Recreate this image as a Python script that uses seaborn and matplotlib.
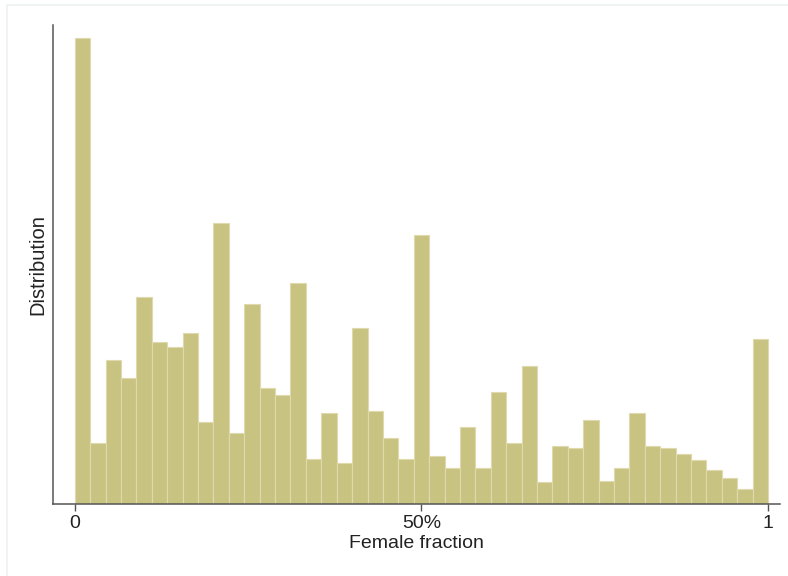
import numpy as np
import pandas as pd
import seaborn as sns
import matplotlib.pyplot as plt
from matplotlib.patches import Rectangle

# share of observations (%) in each of 45 equal bins on [0, 1]
bin_share = [
    9.86, 1.30, 3.05, 2.66, 4.37, 3.42, 3.33, 3.61, 1.73, 5.94,
    1.50, 4.23, 2.46, 2.31, 4.67, 0.95, 1.93, 0.87, 3.73, 1.97,
    1.39, 0.95, 5.70, 1.02, 0.76, 1.62, 0.77, 2.38, 1.30, 2.92,
    0.47, 1.23, 1.18, 1.78, 0.49, 0.77, 1.93, 1.23, 1.18, 1.05,
    0.93, 0.72, 0.54, 0.31, 3.49,
]
n_bins = len(bin_share)
bin_mid = (np.arange(n_bins) + 0.5) / n_bins
x_ticks = [0, 0.5, 1]
x_ticklabels = ["0", "50%", "1"]

df = pd.DataFrame({"female_fraction": bin_mid, "share": bin_share})

sns.set_style("white")
plt.rcParams["font.family"] = ["Liberation Sans", "DejaVu Sans"]

fig = plt.figure(figsize=(7.88, 5.76), dpi=100)
ax = fig.add_axes([0.067, 0.125, 0.923, 0.832])

sns.histplot(
    data=df, x="female_fraction", weights="share",
    bins=n_bins, binrange=(0, 1), stat="count",
    color="#c9c382", alpha=1, edgecolor="#dedaae", linewidth=0.8,
    ax=ax,
)

ax.set_xlim(-0.0317, 1.0173)
ax.set_ylim(0, 10.14)
ax.set_xticks(x_ticks)
ax.set_xticklabels(x_ticklabels, fontsize=14)
ax.set_yticks([])
ax.set_xlabel("Female fraction", fontsize=14, color="#222222", labelpad=2)
ax.set_ylabel("Distribution", fontsize=14.5, color="#222222", labelpad=4)

for side in ["top", "right"]:
    ax.spines[side].set_visible(False)
for side in ["left", "bottom"]:
    ax.spines[side].set_color("#555555")
    ax.spines[side].set_linewidth(1.1)
ax.tick_params(axis="x", direction="out", length=5, width=1, color="#555555",
               bottom=True, labelcolor="#222222", pad=3)

# faint frame of the original screenshot
fig.patches.append(Rectangle((0.009, -0.01), 1.1, 1.001, transform=fig.transFigure,
                             fill=False, edgecolor="#eef1f1", linewidth=1.2))

plt.savefig("out.png", dpi=100)
